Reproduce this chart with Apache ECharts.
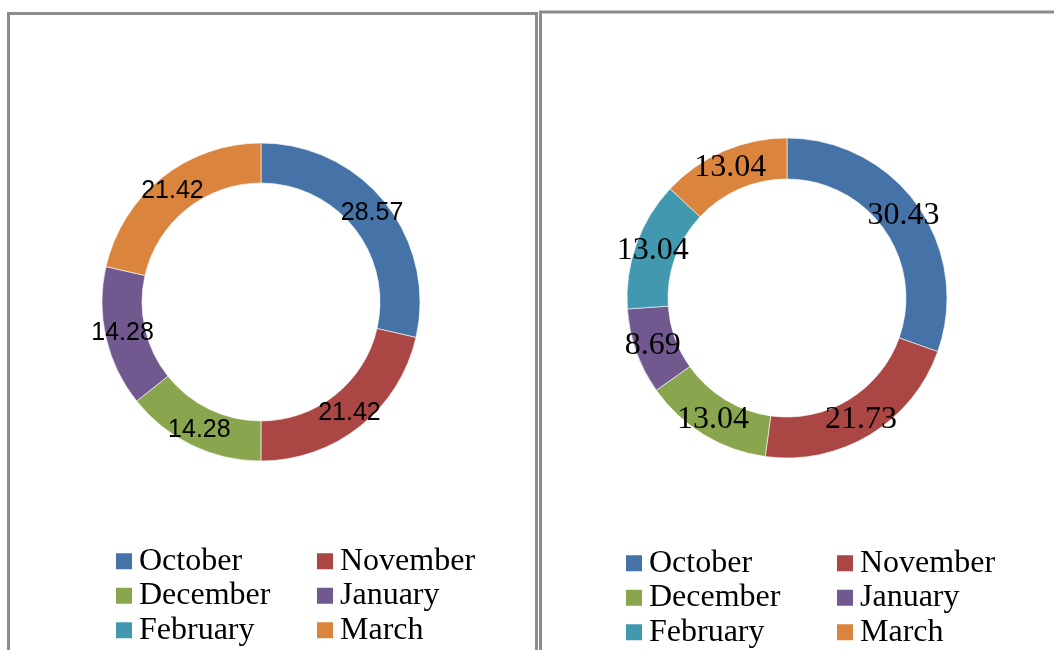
<!DOCTYPE html>
<html>
<head>
<meta charset="utf-8">
<script src="https://cdn.jsdelivr.net/npm/echarts@6/dist/echarts.min.js"></script>
<style>
  html, body { margin: 0; padding: 0; background: #fff; }
  #main { width: 1054px; height: 650px; }
</style>
</head>
<body>
<div id="main"></div>
<script>
let months = ['October', 'November', 'December', 'January', 'February', 'March'];
let colors = ['#4572a7', '#aa4643', '#89a54e', '#71588f', '#4198af', '#db843d'];
// share of each month, left and right chart
let leftValues = [28.57, 21.42, 14.28, 14.28, 0, 21.42];
let rightValues = [30.43, 21.73, 13.04, 8.69, 13.04, 13.04];
let col1 = ['October', 'December', 'February'];
let col2 = ['November', 'January', 'March'];

let mychart = echarts.init(document.getElementById('main'));

function pieData(values) {
  return months.map(function (m, i) {
    let item = { name: m, value: values[i], itemStyle: { color: colors[i] } };
    if (values[i] === 0) {
      item.label = { show: false };
      item.itemStyle.borderWidth = 0;
    }
    return item;
  });
}

function legend(names, left, top) {
  return {
    data: names,
    orient: 'vertical',
    left: left,
    top: top,
    padding: 0,
    itemGap: 0,
    icon: 'rect',
    itemWidth: 16,
    itemHeight: 16,
    itemStyle: { borderWidth: 0 },
    selectedMode: false,
    textStyle: {
      fontFamily: 'Liberation Serif',
      fontSize: 32,
      lineHeight: 34.5,
      color: '#000',
      padding: [0, 0, 0, 2]
    }
  };
}

let option = {
  animation: false,
  legend: [
    legend(col1, 116, 544),
    legend(col2, 317, 544),
    legend(col1, 626, 546),
    legend(col2, 837, 546)
  ],
  graphic: [
    {
      type: 'rect',
      shape: { x: 8.5, y: 13.5, width: 528, height: 700 },
      style: { fill: 'none', stroke: '#8c8c8c', lineWidth: 3 },
      silent: true
    },
    {
      type: 'rect',
      shape: { x: 540.5, y: 12, width: 600, height: 700 },
      style: { fill: 'none', stroke: '#8c8c8c', lineWidth: 3 },
      silent: true
    }
  ],
  series: [
    {
      name: 'left',
      type: 'pie',
      center: [261, 302],
      radius: [119, 159],
      startAngle: 90,
      clockwise: true,
      avoidLabelOverlap: false,
      label: {
        show: true,
        position: 'inside',
        formatter: '{c}',
        fontFamily: 'Liberation Sans',
        fontSize: 25,
        color: '#000'
      },
      labelLine: { show: false },
      itemStyle: { borderColor: '#fff', borderWidth: 0.6 },
      emphasis: { disabled: true },
      data: pieData(leftValues)
    },
    {
      name: 'right',
      type: 'pie',
      center: [787, 298],
      radius: [119, 160],
      startAngle: 90,
      clockwise: true,
      avoidLabelOverlap: false,
      label: {
        show: true,
        position: 'inside',
        formatter: '{c}',
        fontFamily: 'Liberation Serif',
        fontSize: 32,
        color: '#000'
      },
      labelLine: { show: false },
      itemStyle: { borderColor: '#fff', borderWidth: 0.6 },
      emphasis: { disabled: true },
      data: pieData(rightValues)
    }
  ]
};

mychart.setOption(option);
</script>
</body>
</html>
